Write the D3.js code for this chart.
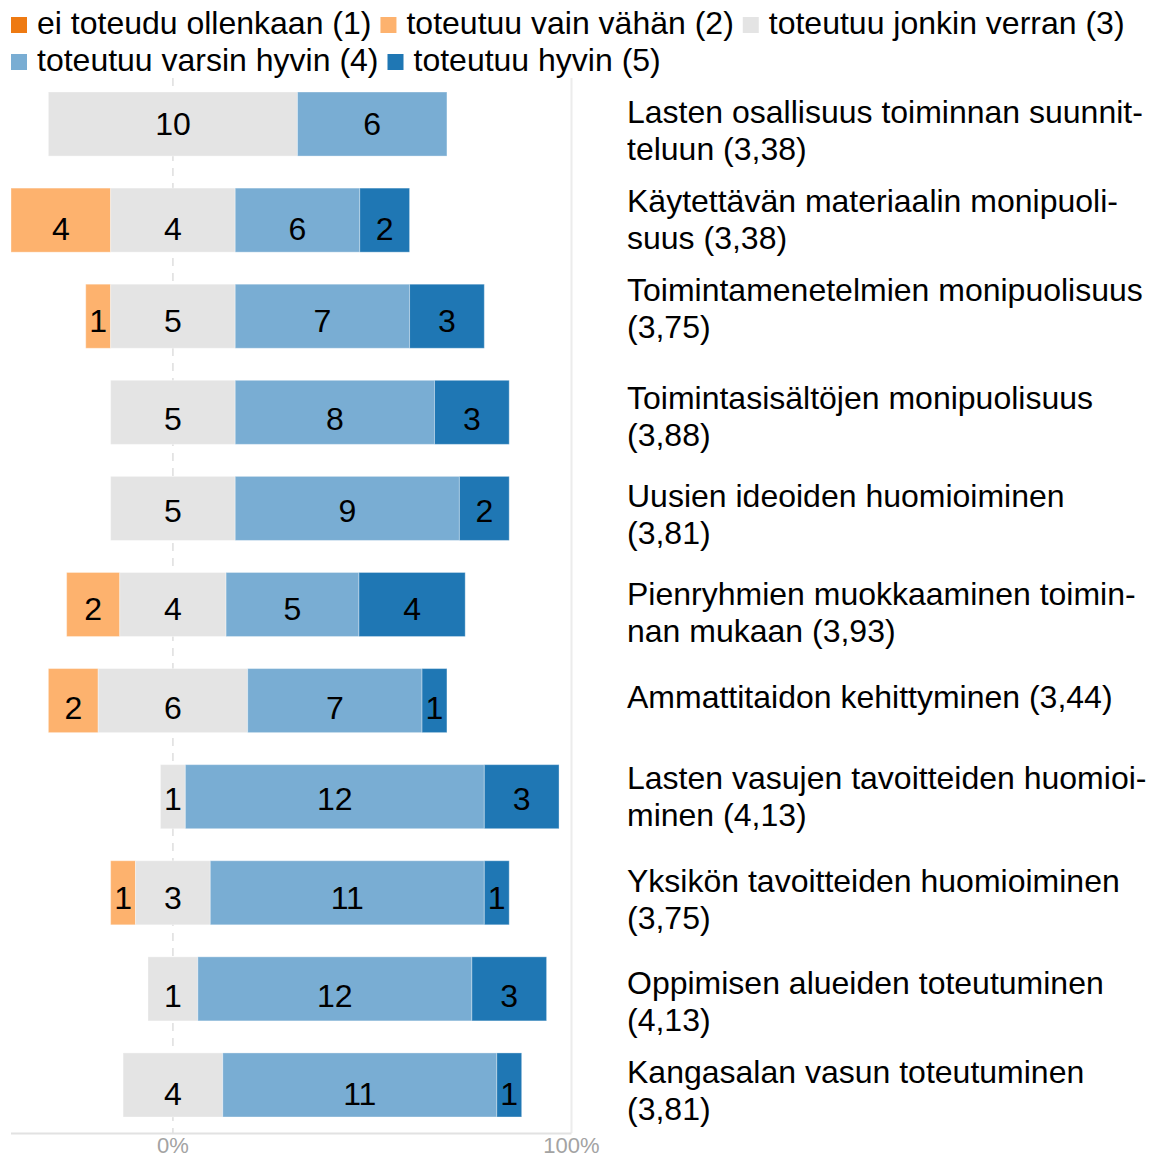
<!DOCTYPE html>
<html>
<head>
<meta charset="utf-8">
<script src="https://cdn.jsdelivr.net/npm/d3@7"></script>
<style>
  body { margin: 0; background: #fff; }
  text { font-family: "Liberation Sans", Arial, sans-serif; }
</style>
</head>
<body>
<svg id="chart" width="1154" height="1156"></svg>
<script>
const levelNames = [
  'ei toteudu ollenkaan (1)',
  'toteutuu vain vähän (2)',
  'toteutuu jonkin verran (3)',
  'toteutuu varsin hyvin (4)',
  'toteutuu hyvin (5)'
];
const levelColors = ['#ee7a12', '#fdb26e', '#e4e4e4', '#79add3', '#1f77b4'];

const categories = [
  ['Lasten osallisuus toiminnan suunnit-', 'teluun (3,38)'],
  ['Käytettävän materiaalin monipuoli-', 'suus (3,38)'],
  ['Toimintamenetelmien monipuolisuus', '(3,75)'],
  ['Toimintasisältöjen monipuolisuus', '(3,88)'],
  ['Uusien ideoiden huomioiminen', '(3,81)'],
  ['Pienryhmien muokkaaminen toimin-', 'nan mukaan (3,93)'],
  ['Ammattitaidon kehittyminen (3,44)'],
  ['Lasten vasujen tavoitteiden huomioi-', 'minen (4,13)'],
  ['Yksikön tavoitteiden huomioiminen', '(3,75)'],
  ['Oppimisen alueiden toteutuminen', '(4,13)'],
  ['Kangasalan vasun toteutuminen', '(3,81)']
];

// printed counts per answer level
const level1 = [0, 0, 0, 0, 0, 0, 0, 0, 0, 0, 0];
const level2 = [0, 4, 1, 0, 0, 2, 2, 0, 1, 0, 0];
const level3 = [10, 4, 5, 5, 5, 4, 6, 1, 3, 1, 4];
const level4 = [6, 6, 7, 8, 9, 5, 7, 12, 11, 12, 11];
const level5 = [0, 2, 3, 3, 2, 4, 1, 3, 1, 3, 1];
// bar lengths as drawn in the original differ from the printed counts in two rows
const level3Drawn = [10, 5, 5, 5, 5, 4, 6, 1, 3, 2, 4];
const level4Drawn = [6, 5, 7, 8, 9, 5, 7, 12, 11, 11, 11];

const tickValues = [0, 1];
const tickLabels = ['0%', '100%'];

// small vertical nudges of the row titles and bar numbers (layout only)
const titleNudge = [6, -1, -8, 4, 6, 7.5, -4, -0.5, 7, 13, 6];
const valueNudge = [0, 9, 5, 7, 3, 5, 7, 2, 5, 7, 9];

const rows = categories.map((lines, i) => {
  const shown = [level1[i], level2[i], level3[i], level4[i], level5[i]];
  const drawn = [level1[i], level2[i], level3Drawn[i], level4Drawn[i], level5[i]];
  const total = d3.sum(drawn);
  let start = -(drawn[0] + drawn[1] + drawn[2] / 2) / total;
  const segs = drawn.map((v, k) => {
    const s = { level: k, x0: start, x1: start + v / total, value: v, label: shown[k], row: i };
    start = s.x1;
    return s;
  }).filter(s => s.value > 0);
  return { index: i, lines, segs };
});

const svg = d3.select('#chart');
const fontSize = 32;

const minShare = d3.min(rows, r => r.segs[0].x0);
const x = d3.scaleLinear()
  .domain([minShare, 1])
  .range([11, 571.5]);

const y = d3.scaleBand()
  .domain(rows.map(r => r.index))
  .range([76, 1133])
  .paddingInner(1 / 3)
  .paddingOuter(1 / 6);

// grid lines
svg.append('line')
  .attr('x1', x(0)).attr('x2', x(0))
  .attr('y1', 78).attr('y2', 1133)
  .attr('stroke', '#dedede')
  .attr('stroke-width', 1.5)
  .attr('stroke-dasharray', '8,7');

svg.append('line')
  .attr('x1', x(1)).attr('x2', x(1))
  .attr('y1', 78).attr('y2', 1133)
  .attr('stroke', '#ececec')
  .attr('stroke-width', 2);

// bottom axis
const axis = svg.append('g')
  .attr('transform', 'translate(0,1133.5)');
axis.append('line')
  .attr('x1', 11).attr('x2', x(1))
  .attr('stroke', '#e2e2e2')
  .attr('stroke-width', 2);
axis.selectAll('text.tick')
  .data(tickValues)
  .enter()
  .append('text')
  .classed('tick', true)
  .attr('x', d => x(d))
  .attr('y', 19)
  .attr('text-anchor', 'middle')
  .attr('font-size', 22)
  .attr('fill', '#a3a3a3')
  .text((d, i) => tickLabels[i]);

// bars
const rowG = svg.selectAll('g.row')
  .data(rows)
  .enter()
  .append('g')
  .classed('row', true)
  .attr('transform', d => `translate(0,${y(d.index)})`);

rowG.selectAll('rect')
  .data(d => d.segs)
  .enter()
  .append('rect')
  .attr('x', d => x(d.x0))
  .attr('width', d => x(d.x1) - x(d.x0))
  .attr('height', y.bandwidth())
  .attr('fill', d => levelColors[d.level])
  .attr('stroke', 'rgba(255,255,255,0.35)')
  .attr('stroke-width', 1);

rowG.selectAll('text.value')
  .data(d => d.segs.filter(s => s.label > 0))
  .enter()
  .append('text')
  .classed('value', true)
  .attr('x', d => (x(d.x0) + x(d.x1)) / 2)
  .attr('y', d => y.bandwidth() / 2 + 11 + valueNudge[d.row])
  .attr('text-anchor', 'middle')
  .attr('font-size', fontSize)
  .attr('fill', '#000')
  .text(d => d.label);

// row titles on the right
const lineGap = 37;
svg.selectAll('text.title')
  .data(rows)
  .enter()
  .append('text')
  .classed('title', true)
  .attr('x', 627)
  .attr('y', d => y(d.index) + y.bandwidth() / 2 + 11 - (d.lines.length - 1) * lineGap / 2 + titleNudge[d.index])
  .attr('font-size', fontSize)
  .attr('fill', '#000')
  .each(function(d) {
    const t = d3.select(this);
    d.lines.forEach((line, k) => {
      t.append('tspan')
        .attr('x', 627)
        .attr('dy', k === 0 ? 0 : lineGap)
        .text(line);
    });
  });

// legend, flowing into lines
const legend = svg.append('g');
let lx = 11;
let ly = 34;
levelNames.forEach((name, i) => {
  const item = legend.append('g');
  item.append('rect')
    .attr('x', 0).attr('y', -17)
    .attr('width', 16).attr('height', 16)
    .attr('fill', levelColors[i]);
  const label = item.append('text')
    .attr('x', 26)
    .attr('font-size', fontSize)
    .attr('fill', '#000')
    .text(name);
  const w = 26 + label.node().getComputedTextLength();
  if (lx + w > 1150) {
    lx = 11;
    ly += 37;
  }
  item.attr('transform', `translate(${lx},${ly})`);
  lx += w + 9;
});
</script>
</body>
</html>
